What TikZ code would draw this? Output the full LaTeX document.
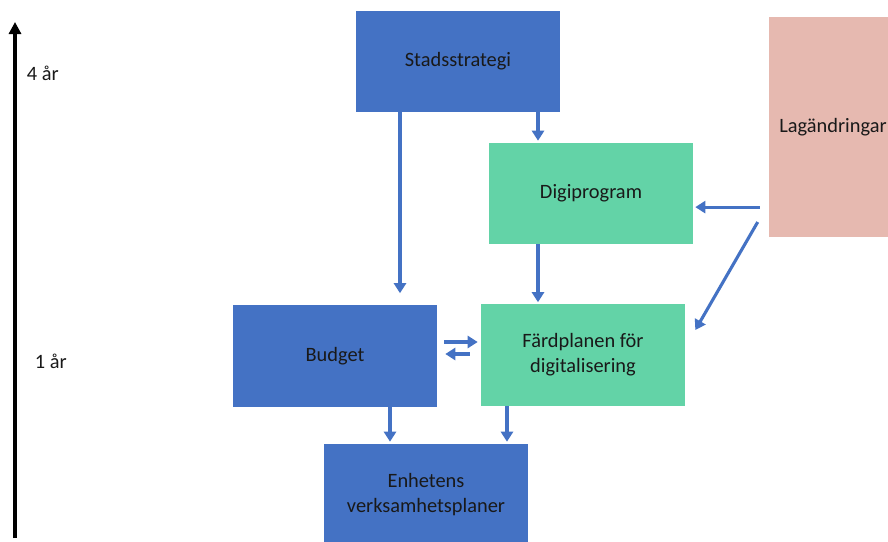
\documentclass[tikz,border=0pt]{standalone}
\usepackage{fontspec}
\setmainfont{Carlito}
\usetikzlibrary{arrows.meta,positioning}

\definecolor{planblue}{HTML}{4472C4}
\definecolor{plangreen}{HTML}{63D3A7}
\definecolor{planpink}{HTML}{E6B9B0}

\begin{document}
\begin{tikzpicture} [
    x=0.025cm, y=-0.025cm,
    every node/.style={font=\fontsize{14.5}{17.8}\selectfont, text=black!90},
    plan/.style={rectangle, fill=planblue, minimum width=5.1cm, minimum height=2.525cm, align=center},
    prog/.style={rectangle, fill=plangreen, minimum width=5.1cm, minimum height=2.525cm, align=center},
    law/.style={rectangle, fill=planpink, minimum width=3.2cm, minimum height=5.5cm, align=center},
    flow/.style={draw=planblue, line width=2.2pt, -{Triangle[width=0.3cm,length=0.25cm]}},
    timeline/.style={draw=black, line width=2.4pt, -{Triangle[width=0.3cm,length=0.3cm]}}
    ]
    \clip (0,0) rectangle (888,541);
    \fill[white] (0,0) rectangle (888,541);

    %Nodes
    \node[plan]      (strat)   at (458,61.5)  {Stadsstrategi};
    \node[prog]      (digi)    at (591,193.5) {Digiprogram};
    \node[law]       (lag)     at (833,127)   {Lagändringar};
    \node[plan]      (budget)  at (335,356)   {Budget};
    \node[prog]      (fard)    at (583,355)   {Färdplanen för\\digitalisering};
    \node[plan]      (enh)     at (426,494.5) {Enhetens\\verksamhetsplaner};

    %Time axis
    \coordinate (tlow)  at (15,538);
    \coordinate (thigh) at (15,22);
    \draw[timeline] (tlow) -- (thigh);
    \node[anchor=west] (four) at (22,73)  {4 år};
    \node[anchor=west] (one)  at (30,361) {1 år};

    %Lines
    \draw[flow, shorten >=0.3cm] ([xshift=-1.45cm]strat.south) -- ([xshift=-1.45cm]strat.south |- budget.north);
    \draw[flow, shorten >=0.05cm] ([xshift=2cm]strat.south) -- ([xshift=2cm]strat.south |- digi.north);
    \draw[flow, shorten >=0.05cm] ([xshift=-1.325cm]digi.south) -- ([xshift=-1.325cm]digi.south |- fard.north);
    \draw[flow, shorten <=0.225cm, shorten >=0.05cm] ([yshift=-0.34cm]digi.east -| lag.west) -- ([yshift=-0.34cm]digi.east);
    \draw[flow] ([xshift=-0.275cm,yshift=-2.375cm]lag.west) -- ([xshift=0.25cm,yshift=0.625cm]fard.east);
    \draw[flow, shorten <=0.175cm, shorten >=0.075cm] ([yshift=0.35cm]budget.east) -- ([yshift=0.35cm]budget.east -| fard.west);
    \draw[flow, shorten <=0.275cm, shorten >=0.2cm] ([yshift=0.025cm]fard.west) -- ([yshift=0.025cm]fard.west -| budget.east);
    \draw[flow, shorten >=0.05cm] ([xshift=1.375cm]budget.south) -- ([xshift=1.375cm]budget.south |- enh.north);
    \draw[flow, shorten >=0.05cm] ([xshift=-1.9cm]fard.south) -- ([xshift=-1.9cm]fard.south |- enh.north);

\end{tikzpicture}
\end{document}
